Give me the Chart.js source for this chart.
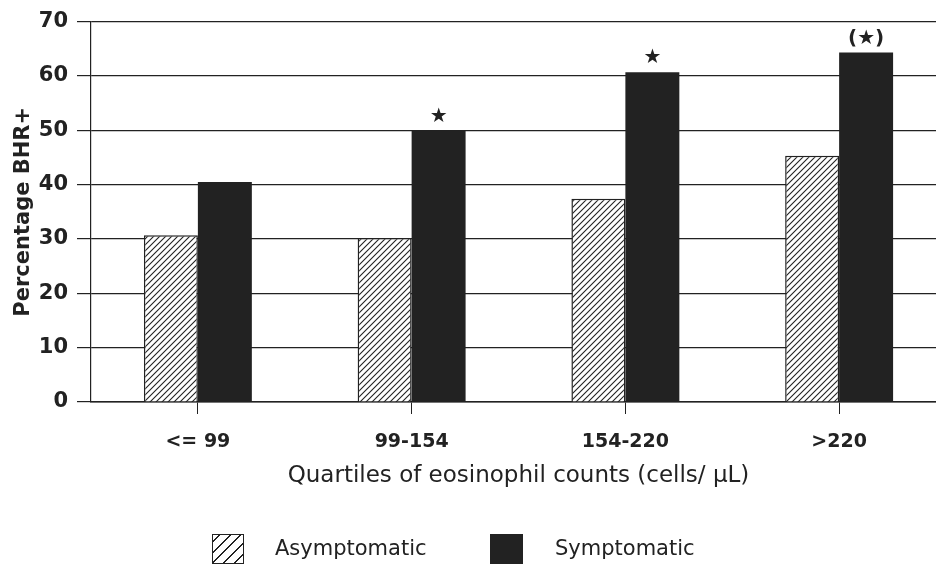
<!DOCTYPE html>
<html>
<head>
<meta charset="utf-8">
<script src="https://cdn.jsdelivr.net/npm/chart.js@4"></script>
<style>
  html, body { margin: 0; padding: 0; background: #fff; overflow: hidden; }
  #wrap { position: relative; width: 936px; height: 567px; overflow: hidden; }
  #wrap canvas { position: absolute; left: 0; top: 0; }
  .item { position: absolute; font-family: "DejaVu Sans", sans-serif; font-size: 21px; color: #222; line-height: 30px; }
  .sw { position: absolute; top: 534px; height: 30px; box-sizing: border-box; border: 1.5px solid #222; }
  .hatch { background: repeating-linear-gradient(135deg, #fff 0 4px, #222 4px 5.5px, #fff 5.5px 7.5px); }
  .solid { background: #222; }
</style>
</head>
<body>
<div id="wrap">
  <canvas id="chart" width="960" height="567" style="width:960px;height:567px"></canvas>
  <div class="sw hatch" style="left:212px;width:32px"></div>
  <div class="item" style="left:275px;top:533px">Asymptomatic</div>
  <div class="sw solid" style="left:490px;width:33px"></div>
  <div class="item" style="left:555px;top:533px">Symptomatic</div>
</div>
<script>
// ---------- Data ----------
const categories = ['<= 99', '99-154', '154-220', '>220'];
const asymptomatic = [30.7, 30.2, 37.4, 45.3];
const symptomatic = [40.5, 49.9, 60.7, 64.3];
const markers = ['', '★', '★', '(★)'];
const yTicks = [0, 10, 20, 30, 40, 50, 60, 70];

const INK = '#222';
const FONT = '"DejaVu Sans", sans-serif';

// diagonal hatch pattern for the asymptomatic bars
function makeHatch() {
  const c = document.createElement('canvas');
  c.width = 6; c.height = 6;
  const g = c.getContext('2d');
  g.fillStyle = '#fff';
  g.fillRect(0, 0, 6, 6);
  g.strokeStyle = INK;
  g.lineWidth = 1.1;
  g.beginPath();
  g.moveTo(-1, 7); g.lineTo(7, -1);
  g.moveTo(-1, 1); g.lineTo(1, -1);
  g.moveTo(5, 7); g.lineTo(7, 5);
  g.stroke();
  return g.createPattern(c, 'repeat');
}

// stars above symptomatic bars
const markerPlugin = {
  id: 'markers',
  afterDatasetsDraw(chart) {
    const ctx = chart.ctx;
    const meta = chart.getDatasetMeta(1);
    ctx.save();
    ctx.fillStyle = INK;
    ctx.textAlign = 'center';
    ctx.textBaseline = 'middle';
    meta.data.forEach((bar, i) => {
      if (!markers[i]) return;
      ctx.font = markers[i].length > 1 ? 'bold 20px ' + FONT : '20px ' + FONT;
      ctx.fillText(markers[i], bar.x, bar.y - 14);
    });
    ctx.restore();
  }
};

const ctx = document.getElementById('chart').getContext('2d');
new Chart(ctx, {
  type: 'bar',
  data: {
    labels: categories,
    datasets: [
      { label: 'Asymptomatic', data: asymptomatic, backgroundColor: makeHatch(),
        borderColor: INK, borderWidth: 1.5, categoryPercentage: 0.505, barPercentage: 1.0 },
      { label: 'Symptomatic', data: symptomatic, backgroundColor: INK,
        borderColor: INK, borderWidth: 0, categoryPercentage: 0.505, barPercentage: 1.0 }
    ]
  },
  options: {
    responsive: false,
    animation: false,
    layout: { padding: { top: 20, right: 14, bottom: 77, left: 11 } },
    plugins: { legend: { display: false }, tooltip: { enabled: false } },
    scales: {
      x: {
        grid: { offset: false, drawOnChartArea: false, drawTicks: true, tickLength: 12, color: INK, lineWidth: 1 },
        border: { display: true, color: INK, width: 1.5 },
        ticks: { color: INK, font: { family: FONT, size: 19, weight: 'bold' }, padding: 17 },
        title: { display: true, text: 'Quartiles of eosinophil counts (cells/ µL)', color: INK,
                 font: { family: FONT, size: 23 }, padding: { top: 0, bottom: 0 } },
        afterFit: s => { s.height = 88; }
      },
      y: {
        min: 0, max: 70,
        afterBuildTicks: s => { s.ticks = yTicks.map(v => ({ value: v })); },
        grid: { color: INK, lineWidth: 1.2, drawTicks: true, tickLength: 14 },
        border: { display: true, color: INK, width: 1.2 },
        ticks: { color: INK, font: { family: FONT, size: 21, weight: 'bold' }, padding: 9 },
        title: { display: true, text: 'Percentage BHR+', color: INK,
                 font: { family: FONT, size: 21, weight: 'bold' }, padding: { top: 0, bottom: 0 } },
        afterFit: s => { s.width = 80; }
      }
    }
  },
  plugins: [markerPlugin]
});
</script>
</body>
</html>
